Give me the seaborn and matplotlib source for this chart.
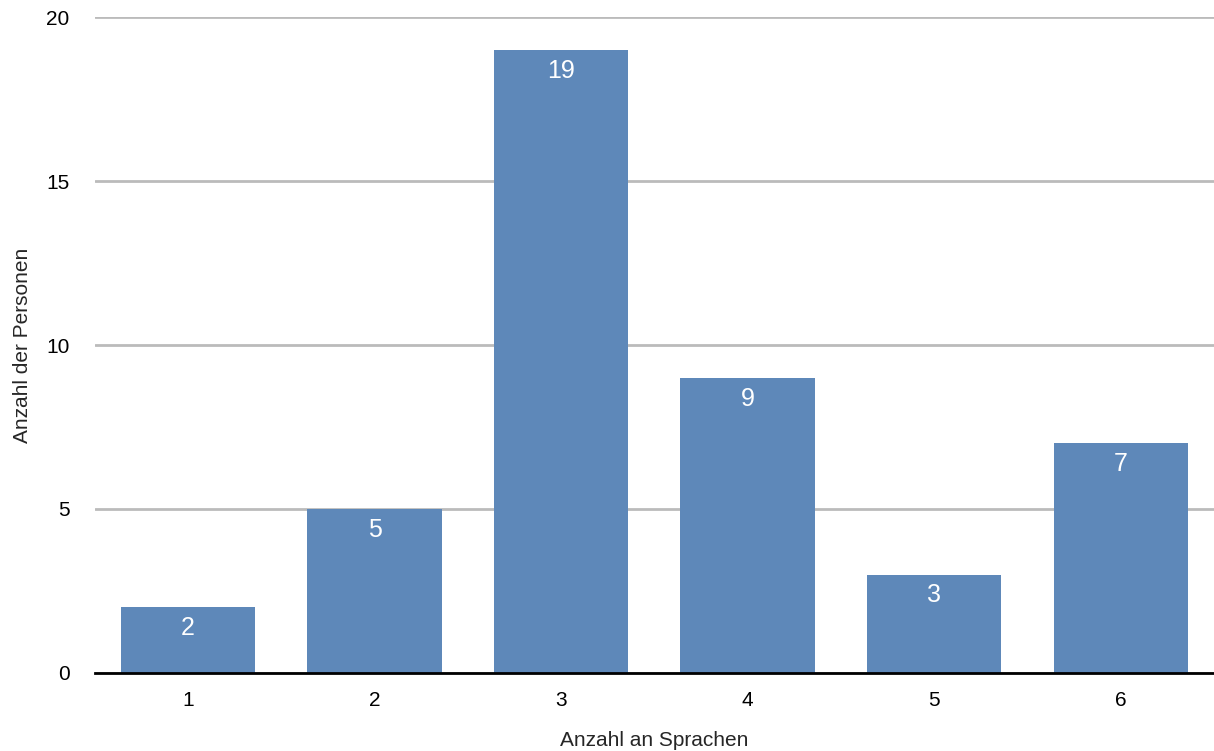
import matplotlib
matplotlib.use("Agg")
import matplotlib.pyplot as plt
import seaborn as sns
import pandas as pd

# ---------------- DATA ----------------
sprachen = ["1", "2", "3", "4", "5", "6"]
personen = [2, 5, 19, 9, 3, 7]
y_ticks = [0, 5, 10, 15, 20]
# --------------------------------------

BAR_COLOR = "#5e88b9"

sns.set_theme(style="white")
plt.rcParams["font.family"] = ["Liberation Sans", "DejaVu Sans"]

df = pd.DataFrame({"Anzahl an Sprachen": sprachen, "Anzahl der Personen": personen})

fig = plt.figure(figsize=(12.14, 7.51), dpi=100)
ax = fig.add_axes([0.078, 0.104, 0.922, 0.873])

sns.barplot(data=df, x="Anzahl an Sprachen", y="Anzahl der Personen",
            color=BAR_COLOR, saturation=1, width=0.72, linewidth=0,
            ax=ax, zorder=3)

# value labels inside bars
for i, v in enumerate(personen):
    ax.annotate(str(v), (i, v), xytext=(0, -15), textcoords="offset points",
                ha="center", va="center", color="white", fontsize=18, zorder=4)

ax.set_ylim(0, 20)
ax.set_xlim(-0.5, 5.5)
ax.set_yticks(y_ticks)
ax.yaxis.grid(True, color="#bbbbbb", linewidth=2)
ax.set_axisbelow(True)
for side in ["top", "right", "left"]:
    ax.spines[side].set_visible(False)
ax.spines["bottom"].set_color("black")
ax.spines["bottom"].set_linewidth(2)
ax.spines["bottom"].set_zorder(5)
ax.tick_params(axis="both", length=0, labelsize=15, colors="black")
ax.tick_params(axis="y", pad=18)
ax.tick_params(axis="x", pad=13)
ax.set_xlabel("Anzahl an Sprachen", fontsize=15, labelpad=15)
ax.set_ylabel("Anzahl der Personen", fontsize=15, labelpad=10)

fig.savefig("out.png", dpi=100)
